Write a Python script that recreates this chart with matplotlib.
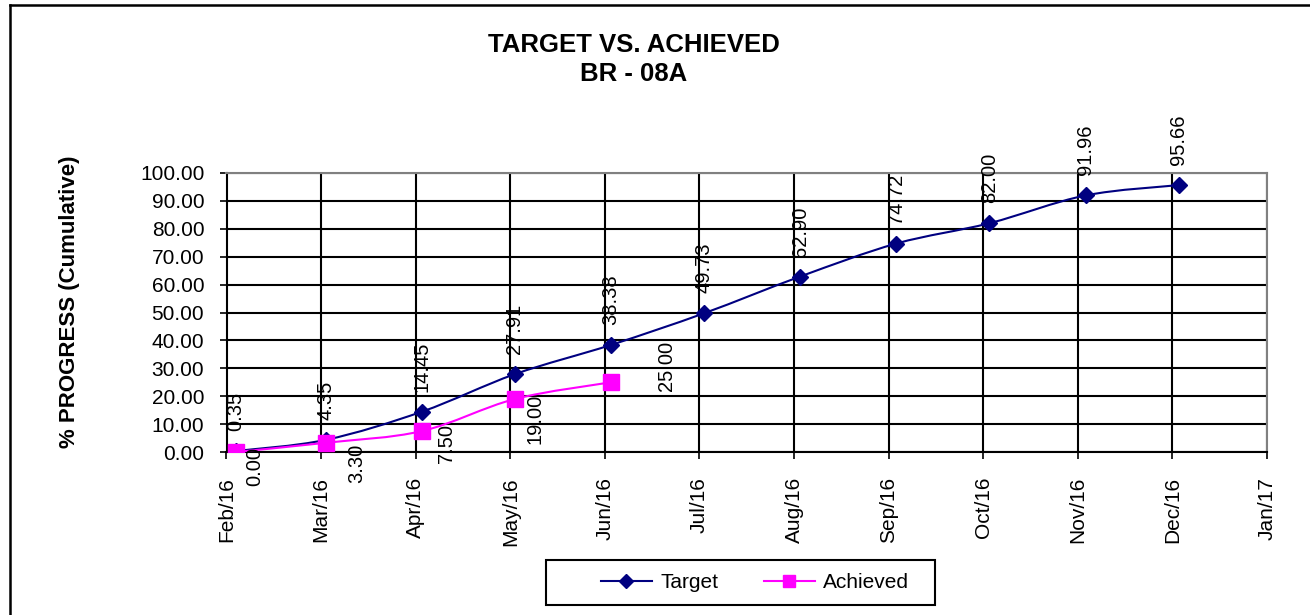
import matplotlib
matplotlib.use("Agg")
import matplotlib.pyplot as plt
import matplotlib.dates as mdates
from matplotlib.path import Path
from matplotlib.patches import PathPatch, Rectangle
from matplotlib.lines import Line2D
import numpy as np
import datetime as dt

# data
target_dates = ["2016-02-04", "2016-03-04", "2016-04-04", "2016-05-04", "2016-06-04",
                "2016-07-04", "2016-08-04", "2016-09-04", "2016-10-04", "2016-11-04",
                "2016-12-04"]
target_values = [0.35, 4.35, 14.45, 27.91, 38.38, 49.73, 62.90, 74.72, 82.00, 91.96, 95.66]

achieved_dates = ["2016-02-04", "2016-03-04", "2016-04-04", "2016-05-04", "2016-06-04"]
achieved_values = [0.00, 3.30, 7.50, 19.00, 25.00]

month_labels = ["Feb/16", "Mar/16", "Apr/16", "May/16", "Jun/16", "Jul/16",
                "Aug/16", "Sep/16", "Oct/16", "Nov/16", "Dec/16", "Jan/17"]

# label placement (pixels from marker centre) for the achieved series
ach_label_offsets = [(19, -15), (31, -21), (25, -12), (20, -20), (55, 16)]

NAVY = "#000080"
MAGENTA = "#FF00FF"
W, H = 1310, 615

plt.rcParams['font.family'] = ['Liberation Sans', 'DejaVu Sans']


def to_num(dates):
    return mdates.date2num([dt.datetime.strptime(d, "%Y-%m-%d") for d in dates])


def smooth_path(x, y):
    # Excel-like smoothed line: Catmull-Rom as cubic Bezier segments
    pts = np.column_stack([x, y])
    n = len(pts)
    verts = [pts[0]]
    codes = [Path.MOVETO]
    for i in range(n - 1):
        p0 = pts[i - 1] if i > 0 else pts[i]
        p1 = pts[i]
        p2 = pts[i + 1]
        p3 = pts[i + 2] if i + 2 < n else pts[i + 1]
        c1 = p1 + (p2 - p0) / 6.0
        c2 = p2 - (p3 - p1) / 6.0
        verts += [c1, c2, p2]
        codes += [Path.CURVE4] * 3
    return Path(verts, codes)


fig = plt.figure(figsize=(W / 100, H / 100), dpi=100)
ax = fig.add_axes([226.5 / W, 1 - 452 / H, (1267 - 226.5) / W, (452 - 173) / H])

tx = to_num(target_dates)
axx = to_num(achieved_dates)
x0 = mdates.date2num(dt.datetime(2016, 2, 1))
x1 = x0 + 335.5

ax.add_patch(PathPatch(smooth_path(tx, target_values), fill=False, edgecolor=NAVY, lw=1.5, zorder=3))
ax.add_patch(PathPatch(smooth_path(axx, achieved_values), fill=False, edgecolor=MAGENTA, lw=1.5, zorder=3))
ax.plot(tx, target_values, ls='none', marker='D', ms=8.5, color=NAVY, zorder=4)
ax.plot(axx, achieved_values, ls='none', marker='s', ms=11.5, color=MAGENTA, zorder=5)

# legend handles
h1, = ax.plot([], [], color=NAVY, lw=1.5, marker='D', ms=7, label='Target')
h2, = ax.plot([], [], color=MAGENTA, lw=1.5, marker='s', ms=9, label='Achieved')

for x, v in zip(tx, target_values):
    ax.annotate(f"{v:.2f}", (x, v), xytext=(0, 20), textcoords='offset pixels',
                rotation=90, ha='center', va='bottom', fontsize=14.5, zorder=6)
for (x, v), off in zip(zip(axx, achieved_values), ach_label_offsets):
    ax.annotate(f"{v:.2f}", (x, v), xytext=off, textcoords='offset pixels',
                rotation=90, ha='center', va='center', fontsize=14.5, zorder=6)

ax.set_xlim(x0, x1)
ax.set_ylim(0, 100)
ax.set_xticks(np.linspace(x0, x1, len(month_labels)))
ax.set_xticklabels(month_labels, rotation=90, fontsize=15)
ax.set_yticks(np.arange(0, 101, 10))
ax.set_yticklabels([f"{v:.2f}" for v in np.arange(0, 101, 10)], fontsize=15)
ax.tick_params(axis='both', direction='out', length=5, width=1.2, color='black')
ax.tick_params(axis='x', pad=13)
ax.tick_params(axis='y', pad=11)
ax.grid(True, color='black', lw=1.5, zorder=1)
ax.set_axisbelow(True)
for side in ['top', 'right']:
    ax.spines[side].set_color('#808080')
    ax.spines[side].set_linewidth(1.5)
for side in ['left', 'bottom']:
    ax.spines[side].set_color('black')
    ax.spines[side].set_linewidth(1.5)

fig.text(70 / W, 1 - 302 / H, "% PROGRESS (Cumulative)", rotation=90, ha='center', va='center',
         fontsize=16, fontweight='bold')

fig.text(634 / W, 1 - 45 / H, "TARGET VS. ACHIEVED", ha='center', va='center',
         fontsize=18.5, fontweight='bold')
fig.text(634 / W, 1 - 74 / H, "BR - 08A", ha='center', va='center',
         fontsize=18.5, fontweight='bold')

# legend: entries without frame, box drawn separately (Excel pads the left side more)
leg = fig.legend(handles=[h1, h2], loc='center', bbox_to_anchor=(755 / W, 1 - 583 / H),
                 ncol=2, fontsize=15, frameon=False, handlelength=2.45,
                 columnspacing=2.2, handletextpad=0.4)
fig.add_artist(Rectangle((546 / W, 1 - 605 / H), (935 - 546) / W, 45 / H,
                         transform=fig.transFigure, fill=False, edgecolor='black', lw=1.5))

# outer chart border (only top and left edges fall inside the image)
fig.add_artist(Line2D([9.5 / W, 1.01], [1 - 4.5 / H, 1 - 4.5 / H], transform=fig.transFigure,
                      color='black', lw=1.8))
fig.add_artist(Line2D([9.5 / W, 9.5 / W], [-0.01, 1 - 4.5 / H], transform=fig.transFigure,
                      color='black', lw=1.8))

fig.savefig("out.png", dpi=100)
